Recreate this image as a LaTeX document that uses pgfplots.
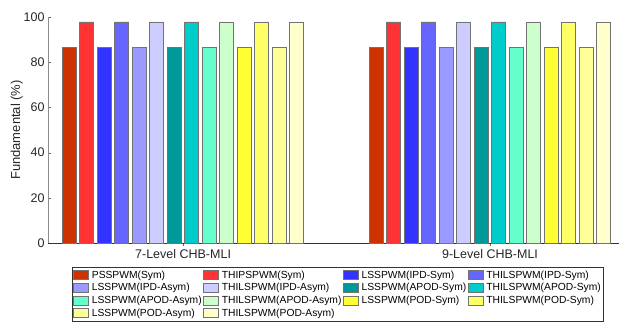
\documentclass[border=0pt]{standalone}
\usepackage{pgfplots}
\pgfplotsset{compat=1.18}
\usepackage{fontspec}
\setmainfont{Liberation Sans}
\definecolor{c1}{HTML}{CC3300}
\definecolor{c2}{HTML}{FF3333}
\definecolor{c3}{HTML}{3333FF}
\definecolor{c4}{HTML}{6666FF}
\definecolor{c5}{HTML}{9999FF}
\definecolor{c6}{HTML}{CCCCFF}
\definecolor{c7}{HTML}{009999}
\definecolor{c8}{HTML}{00CCCC}
\definecolor{c9}{HTML}{66FFCC}
\definecolor{c10}{HTML}{CCFFCC}
\definecolor{c11}{HTML}{FFFF33}
\definecolor{c12}{HTML}{FFFF66}
\definecolor{c13}{HTML}{FFFF99}
\definecolor{c14}{HTML}{FFFFCC}
\begin{document}
\begin{tikzpicture}
\begin{axis}[
  name=ax,
  scale only axis,
  width=571pt, height=226pt,
  xmin=0.56, xmax=2.42,
  ymin=0, ymax=100,
  ytick={0,20,40,60,80,100},
  xtick={1,2},
  xticklabels={7-Level CHB-MLI,9-Level CHB-MLI},
  axis x line*=bottom,
  axis y line*=left,
  x axis line style={draw=black!80, -},
  y axis line style={draw=black!45, -},
  tick align=inside,
  major tick length=3pt,
  tick style={black!60},
  ticklabel style={font=\fontsize{12.5}{14}\selectfont, text=black!85},
  /pgf/number format/assume math mode=true,
  ylabel={Fundamental (\%)},
  ylabel style={font=\fontsize{13}{15}\selectfont, text=black!85, yshift=-6pt},
  ybar,
  bar width=0.0456,
  every axis plot/.append style={draw=black!55, line width=0.7pt},
  legend columns=4,
  legend cell align=left,
  legend style={at={(0.042,-0.106)}, anchor=north west,
    font=\fontsize{10.3}{12}\selectfont,
    draw=black!80, line width=0.6pt,
    inner xsep=1pt, inner ysep=2pt,
    row sep=0.7pt,
    /tikz/every even column/.append style={column sep=0.5pt},
    /tikz/every odd column/.append style={column sep=2pt},
    nodes={inner xsep=1pt, inner ysep=1.5pt}},
  legend image code/.code={\draw[#1, line width=0.6pt] (0pt,-4.5pt) rectangle (15pt,4.5pt);},
]
\addplot[fill=c1, bar shift=-0.3705] coordinates {(1,86.7) (2,86.7)};
\addplot[fill=c2, bar shift=-0.3135] coordinates {(1,97.8) (2,97.8)};
\addplot[fill=c3, bar shift=-0.2565] coordinates {(1,86.7) (2,86.7)};
\addplot[fill=c4, bar shift=-0.1995] coordinates {(1,97.8) (2,97.8)};
\addplot[fill=c5, bar shift=-0.1425] coordinates {(1,86.7) (2,86.7)};
\addplot[fill=c6, bar shift=-0.0855] coordinates {(1,97.8) (2,97.8)};
\addplot[fill=c7, bar shift=-0.0285] coordinates {(1,86.7) (2,86.7)};
\addplot[fill=c8, bar shift=0.0285] coordinates {(1,97.8) (2,97.8)};
\addplot[fill=c9, bar shift=0.0855] coordinates {(1,86.7) (2,86.7)};
\addplot[fill=c10, bar shift=0.1425] coordinates {(1,97.8) (2,97.8)};
\addplot[fill=c11, bar shift=0.1995] coordinates {(1,86.7) (2,86.7)};
\addplot[fill=c12, bar shift=0.2565] coordinates {(1,97.8) (2,97.8)};
\addplot[fill=c13, bar shift=0.3135] coordinates {(1,86.7) (2,86.7)};
\addplot[fill=c14, bar shift=0.3705] coordinates {(1,97.8) (2,97.8)};
\legend{PSSPWM(Sym),THIPSPWM(Sym),LSSPWM(IPD-Sym),THILSPWM(IPD-Sym),
LSSPWM(IPD-Asym),THILSPWM(IPD-Asym),LSSPWM(APOD-Sym),THILSPWM(APOD-Sym),
LSSPWM(APOD-Asym),THILSPWM(APOD-Asym),LSSPWM(POD-Sym),THILSPWM(POD-Sym),
LSSPWM(POD-Asym),THILSPWM(POD-Asym)}
\end{axis}
\pgfresetboundingbox
\path[use as bounding box] ([xshift=-48pt,yshift=-79pt]ax.south west) rectangle ([yshift=17pt]ax.north east);
\end{tikzpicture}
\end{document}
